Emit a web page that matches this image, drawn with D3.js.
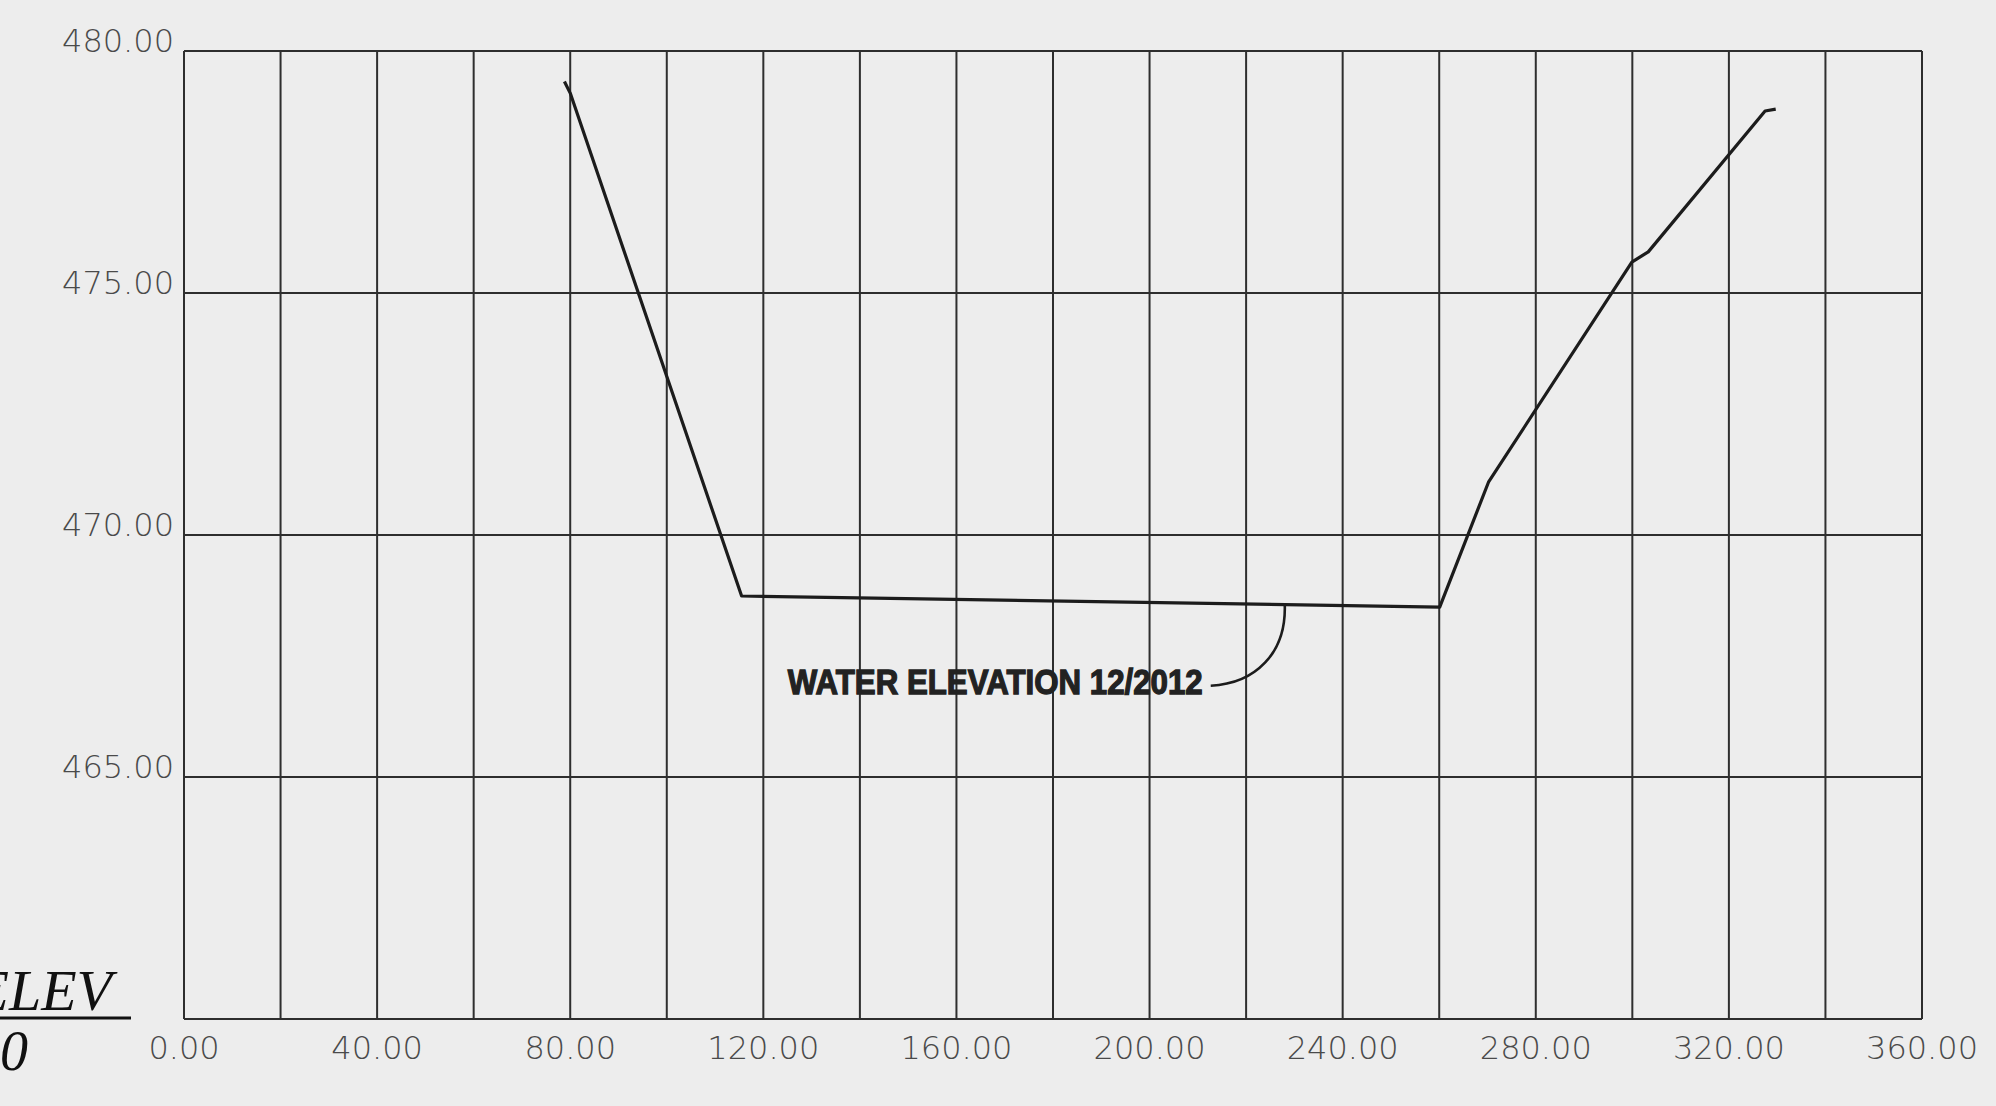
<!DOCTYPE html>
<html lang="en">
<head>
<meta charset="UTF-8">
<title>Water elevation section</title>
<script src="https://cdn.jsdelivr.net/npm/d3@7"></script>
<style>
  html, body { margin: 0; padding: 0; background: #ededed; }
  svg { display: block; }
  .tick-label { font-family: "DejaVu Sans", sans-serif; font-size: 32px; font-weight: 300; fill: #4a4a4a; }
</style>
</head>
<body>
<div id="grafica"></div>
<script>
// station (ft) and elevation (ft) of the surveyed profile
stations = [78.8, 80.0, 115.5, 260.1, 270.2, 299.9, 303.3, 327.5, 329.7]
elevations = [479.37, 479.13, 468.74, 468.51, 471.09, 475.64, 475.85, 478.76, 478.80]

xTicks = [0, 40, 80, 120, 160, 200, 240, 280, 320, 360]
yTicks = [465, 470, 475, 480]
xGrid = d3.range(0, 361, 20)
yGrid = d3.range(460, 481, 5)

noteText = 'WATER ELEVATION 12/2012'
noteStation = 228
noteElev = 468.58

ancho = 1996
alto = 1106

svg = d3.select('#grafica')
  .append('svg')
  .attr('width', ancho)
  .attr('height', alto)

x = d3.scaleLinear().domain([0, 360]).range([184, 1922])
y = d3.scaleLinear().domain([460, 480]).range([1019, 51])

// grid
svg.append('g').selectAll('line').data(xGrid).enter()
  .append('line')
  .attr('x1', d => x(d)).attr('x2', d => x(d))
  .attr('y1', y(480)).attr('y2', y(460))
  .attr('stroke', '#2e2e2e').attr('stroke-width', 2)

svg.append('g').selectAll('line').data(yGrid).enter()
  .append('line')
  .attr('x1', x(0)).attr('x2', x(360))
  .attr('y1', d => y(d)).attr('y2', d => y(d))
  .attr('stroke', '#2e2e2e').attr('stroke-width', 2)

// tick labels
svg.append('g').selectAll('text').data(yTicks).enter()
  .append('text')
  .attr('class', 'tick-label')
  .attr('x', x(0) - 10)
  .attr('y', d => y(d) + 1)
  .attr('text-anchor', 'end')
  .text(d => d.toFixed(2))

svg.append('g').selectAll('text').data(xTicks).enter()
  .append('text')
  .attr('class', 'tick-label')
  .attr('x', d => x(d))
  .attr('y', y(460) + 40)
  .attr('text-anchor', 'middle')
  .text(d => d.toFixed(2))

// profile line
pts = stations.map((s, i) => [s, elevations[i]])
linea = d3.line().x(d => x(d[0])).y(d => y(d[1]))
svg.append('path')
  .attr('d', linea(pts))
  .attr('fill', 'none')
  .attr('stroke', '#1c1c1c')
  .attr('stroke-width', 3.2)
  .attr('stroke-linejoin', 'round')

// annotation with leader
ax = x(noteStation)
ay = y(noteElev)
svg.append('path')
  .attr('d', 'M' + (ax - 74) + ',' + (ay + 82) +
    ' C' + (ax - 30) + ',' + (ay + 80) + ' ' + (ax + 2) + ',' + (ay + 50) + ' ' + ax + ',' + ay)
  .attr('fill', 'none')
  .attr('stroke', '#1c1c1c')
  .attr('stroke-width', 2.6)

svg.append('text')
  .attr('x', ax - 497)
  .attr('y', ay + 90)
  .attr('textLength', 415)
  .attr('lengthAdjust', 'spacingAndGlyphs')
  .style('font-family', '"Liberation Sans", Arial, sans-serif')
  .style('font-weight', 'bold')
  .style('font-size', '35px')
  .style('fill', '#222')
  .style('stroke', '#222')
  .style('stroke-width', 1.3)
  .text(noteText)

// cut-off label at the left edge, as in the source sheet
svg.append('text')
  .attr('x', 112).attr('y', 1010)
  .attr('text-anchor', 'end')
  .style('font-family', '"Liberation Serif", serif')
  .style('font-style', 'italic')
  .style('font-size', '58px')
  .style('fill', '#111')
  .text('ELEV')
svg.append('line')
  .attr('x1', 0).attr('x2', 131)
  .attr('y1', 1018).attr('y2', 1018)
  .attr('stroke', '#111').attr('stroke-width', 3)
svg.append('text')
  .attr('x', 28).attr('y', 1070)
  .attr('text-anchor', 'end')
  .style('font-family', '"Liberation Serif", serif')
  .style('font-style', 'italic')
  .style('font-size', '56px')
  .style('fill', '#111')
  .text('0')
</script>
</body>
</html>
